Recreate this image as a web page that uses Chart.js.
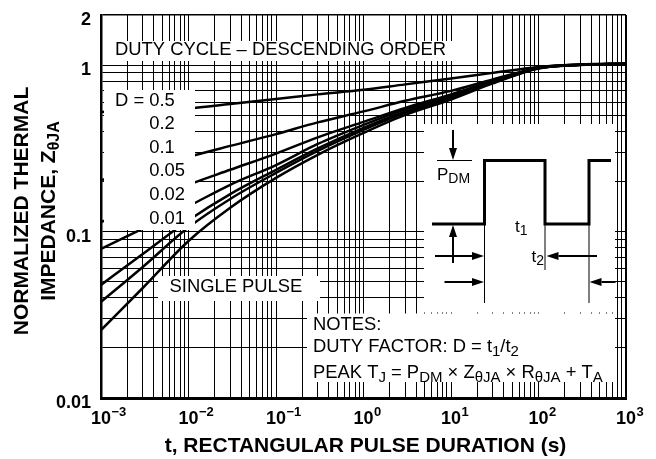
<!DOCTYPE html>
<html>
<head>
<meta charset="utf-8">
<script src="https://cdn.jsdelivr.net/npm/chart.js@4.4.0/dist/chart.umd.min.js"></script>
<style>
  html, body { margin: 0; padding: 0; background: #fff; }
  #wrap { width: 656px; height: 459px; }
</style>
</head>
<body>
<div id="wrap"><canvas id="zth-chart" width="656" height="459"></canvas></div>
<script>
// pulse durations (s) where the curves were sampled
const pulseTimes = [1e-3, 3e-3, 1e-2, 3e-2, 0.1, 0.3, 1, 3, 10, 30, 100, 300, 1000];

// normalized transient thermal impedance per duty cycle
const zD050 = [0.523, 0.534, 0.550, 0.584, 0.625, 0.667, 0.710, 0.766, 0.830, 0.898, 0.975, 1.01, 1.02];
const zD020 = [0.204, 0.235, 0.281, 0.327, 0.385, 0.453, 0.527, 0.610, 0.700, 0.821, 0.962, 1.005, 1.02];
const zD010 = [0.114, 0.145, 0.191, 0.235, 0.294, 0.368, 0.456, 0.553, 0.667, 0.804, 0.965, 1.005, 1.02];
const zD005 = [0.0786, 0.104, 0.142, 0.191, 0.251, 0.336, 0.437, 0.542, 0.653, 0.798, 0.962, 1.005, 1.02];
const zD002 = [0.0478, 0.0733, 0.117, 0.168, 0.235, 0.316, 0.420, 0.527, 0.640, 0.787, 0.959, 1.005, 1.02];
const zD001 = [0.0378, 0.0613, 0.106, 0.157, 0.225, 0.305, 0.408, 0.516, 0.631, 0.782, 0.958, 1.005, 1.02];
const zSingle = [0.0256, 0.0458, 0.0878, 0.139, 0.210, 0.289, 0.391, 0.502, 0.621, 0.776, 0.955, 1.00, 1.02];

const dutyLabels = ["0.5", "0.2", "0.1", "0.05", "0.02", "0.01"];

// axis labels
const xTickExponents = [-3, -2, -1, 0, 1, 2, 3];
const yTickValues = [0.01, 0.1, 1, 2];
const yTickLabels = ["0.01", "0.1", "1", "2"];

const SANS = '"Liberation Sans", Arial, Helvetica, sans-serif';

function logGrid(lo, hi) {
  const out = [];
  for (let e = lo; e < hi; e++) {
    for (let m = 1; m <= 9; m++) out.push(+(m * Math.pow(10, e)).toPrecision(3));
  }
  out.push(Math.pow(10, hi));
  return out;
}

function toPoints(vals) {
  return vals.map((v, i) => ({ x: pulseTimes[i], y: v }));
}

function curve(vals) {
  return {
    data: toPoints(vals),
    borderColor: "#000",
    borderWidth: 2.5,
    pointRadius: 0,
    fill: false,
    cubicInterpolationMode: "monotone",
  };
}

// text with subscripts; parts = [[text, isSub], ...]
function richText(ctx, x, y, parts, o) {
  const w0 = o.bold ? "bold " : "";
  const main = w0 + o.size + "px " + SANS;
  const sub = w0 + o.sub + "px " + SANS;
  let w = 0;
  parts.forEach(([t, s]) => { ctx.font = s ? sub : main; w += ctx.measureText(t).width; });
  let cx = o.align === "center" ? x - w / 2 : x;
  parts.forEach(([t, s]) => {
    ctx.font = s ? sub : main;
    ctx.fillText(t, cx, y + (s ? o.drop : 0));
    cx += ctx.measureText(t).width;
  });
}

function arrow(ctx, x1, y1, x2, y2) {
  const a = Math.atan2(y2 - y1, x2 - x1), len = 12, half = 4;
  const bx = x2 - Math.cos(a) * len, by = y2 - Math.sin(a) * len;
  ctx.beginPath();
  ctx.moveTo(x1, y1);
  ctx.lineTo(bx, by);
  ctx.stroke();
  ctx.beginPath();
  ctx.moveTo(x2, y2);
  ctx.lineTo(bx - Math.sin(a) * half, by + Math.cos(a) * half);
  ctx.lineTo(bx + Math.sin(a) * half, by - Math.cos(a) * half);
  ctx.closePath();
  ctx.fill();
}

const annotations = {
  id: "annotations",
  afterDatasetsDraw(chart) {
    const ctx = chart.ctx;
    const xs = chart.scales.x, ys = chart.scales.y;
    ctx.save();
    ctx.textAlign = "left";
    ctx.textBaseline = "alphabetic";

    // white label panels over the grid
    ctx.fillStyle = "#fff";
    ctx.fillRect(110, 41, 342, 20);     // duty cycle heading
    ctx.fillRect(104, 90, 91, 140);     // D = ... list
    ctx.fillRect(158, 276, 162, 25);    // single pulse
    ctx.fillRect(424, 124, 191, 188.5); // pulse sketch
    ctx.fillRect(307, 313.5, 308, 68.5); // notes

    ctx.fillStyle = "#000";
    ctx.strokeStyle = "#000";
    const reg = "18.4px " + SANS;

    ctx.font = reg;
    ctx.fillText("DUTY CYCLE \u2013 DESCENDING ORDER", 115, 55);

    ctx.fillText("D = ", 115, 105.5);
    const vx = 115 + ctx.measureText("D = ").width;
    dutyLabels.forEach((t, i) => ctx.fillText(t, vx, 105.5 + i * 23.6));

    ctx.fillText("SINGLE PULSE", 169.5, 292);

    // notes
    const n = { size: 18.4, sub: 15, drop: 3.5 };
    richText(ctx, 313, 329.5, [["NOTES:", false]], n);
    richText(ctx, 313, 352, [["DUTY FACTOR: D = t", false], ["1", true], ["/t", false], ["2", true]], n);
    richText(ctx, 313, 378, [
      ["PEAK T", false], ["J", true], [" = P", false], ["DM", true],
      [" \u00d7 Z", false], ["\u03b8JA", true], [" \u00d7 R", false], ["\u03b8JA", true],
      [" + T", false], ["A", true],
    ], n);

    // pulse train sketch
    ctx.lineWidth = 3;
    ctx.lineJoin = "miter";
    ctx.beginPath();
    ctx.moveTo(432, 224);
    ctx.lineTo(484.5, 224);
    ctx.lineTo(484.5, 160.5);
    ctx.lineTo(545, 160.5);
    ctx.lineTo(545, 224);
    ctx.lineTo(589, 224);
    ctx.lineTo(589, 160.5);
    ctx.lineTo(611, 160.5);
    ctx.stroke();

    ctx.lineWidth = 1;
    ctx.beginPath();
    ctx.moveTo(437, 160.5); ctx.lineTo(472, 160.5);
    ctx.moveTo(484.5, 224); ctx.lineTo(484.5, 303);
    ctx.moveTo(545, 224); ctx.lineTo(545, 270);
    ctx.moveTo(589, 224); ctx.lineTo(589, 303);
    ctx.stroke();

    ctx.lineWidth = 2;
    arrow(ctx, 453, 130, 453, 160);
    arrow(ctx, 453, 263, 453, 225);
    arrow(ctx, 435, 256, 484, 256);
    arrow(ctx, 597, 256, 546.5, 256);
    arrow(ctx, 444.5, 282, 484, 282);
    arrow(ctx, 615.5, 282, 589.5, 282);

    const s = { size: 17, sub: 14, drop: 3 };
    richText(ctx, 437, 180, [["P", false], ["DM", true]], s);
    richText(ctx, 515, 231.5, [["t", false], ["1", true]], s);
    richText(ctx, 531.5, 261.5, [["t", false], ["2", true]], s);

    // tick labels
    ctx.font = "bold 18px " + SANS;
    ctx.textAlign = "right";
    yTickValues.forEach((v, i) => {
      ctx.fillText(yTickLabels[i], 91, ys.getPixelForValue(v) + 10);
    });
    ctx.textAlign = "left";
    xTickExponents.forEach((e) => {
      const px = xs.getPixelForValue(Math.pow(10, e));
      ctx.font = "bold 18px " + SANS;
      const bw = ctx.measureText("10").width;
      ctx.fillText("10", px - bw / 2, 424);
      ctx.font = "bold 13px " + SANS;
      ctx.fillText(e < 0 ? "\u2212" + (-e) : String(e), px + bw / 2 + 0.5, 416);
    });

    // axis titles
    richText(ctx, (chart.chartArea.left + chart.chartArea.right) / 2 + 2, 452,
      [["t, RECTANGULAR PULSE DURATION (s)", false]], { size: 21, sub: 16, drop: 4, bold: true, align: "center" });

    ctx.save();
    ctx.translate(27.5, 211);
    ctx.rotate(-Math.PI / 2);
    richText(ctx, 0, 0, [["NORMALIZED THERMAL", false]], { size: 21, sub: 16, drop: 4, bold: true, align: "center" });
    richText(ctx, 0, 27.5, [["IMPEDANCE, Z", false], ["\u03b8JA", true]], { size: 21, sub: 16, drop: 4, bold: true, align: "center" });
    ctx.restore();

    ctx.restore();
  },
};

const xGrid = logGrid(-3, 3);
const yGrid = logGrid(-2, 0).concat([2]);

new Chart(document.getElementById("zth-chart"), {
  type: "line",
  data: {
    datasets: [
      curve(zD050),
      curve(zD020),
      curve(zD010),
      curve(zD005),
      curve(zD002),
      curve(zD001),
      curve(zSingle),
    ],
  },
  options: {
    responsive: false,
    animation: false,
    devicePixelRatio: 1,
    layout: { padding: { left: 101, right: 30, top: 15, bottom: 61 } },
    plugins: {
      legend: { display: false },
      tooltip: { enabled: false },
    },
    scales: {
      x: {
        type: "logarithmic",
        min: 1e-3,
        max: 1e3,
        afterBuildTicks: (scale) => { scale.ticks = xGrid.map((v) => ({ value: v })); },
        ticks: { display: false, autoSkip: false },
        grid: {
          color: "#000",
          lineWidth: (c) => (c.tick && c.tick.value === 1000 ? 2 : 1),
          drawTicks: false,
        },
        border: { display: true, color: "#000", width: 3 },
      },
      y: {
        type: "logarithmic",
        min: 0.01,
        max: 2,
        afterBuildTicks: (scale) => { scale.ticks = yGrid.map((v) => ({ value: v })); },
        ticks: { display: false, autoSkip: false },
        grid: {
          color: "#000",
          lineWidth: (c) => (c.tick && c.tick.value === 2 ? 1.5 : 1),
          drawTicks: false,
        },
        border: { display: true, color: "#000", width: 2.5 },
      },
    },
  },
  plugins: [annotations],
});
</script>
</body>
</html>
